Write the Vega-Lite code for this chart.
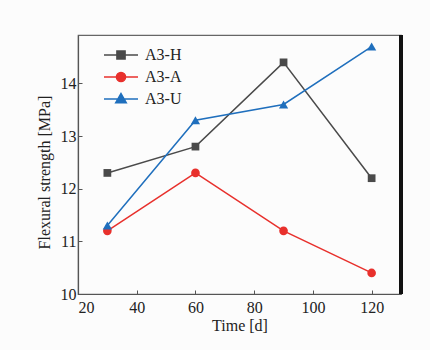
{
  "$schema": "https://vega.github.io/schema/vega-lite/v6.json",
  "width": 323,
  "height": 259,
  "autosize": {"type": "none"},
  "padding": {"left": 78, "top": 35, "right": 29, "bottom": 56},
  "background": "#fcfcfc",
  "config": {
    "view": {"stroke": "#666666", "strokeWidth": 1.2},
    "font": "Liberation Serif",
    "axis": {
      "labelFont": "Liberation Serif",
      "titleFont": "Liberation Serif",
      "labelFontSize": 16,
      "titleFontSize": 16,
      "titleFontWeight": "normal",
      "labelColor": "#222222",
      "titleColor": "#222222",
      "domainColor": "#555555",
      "domainWidth": 1.2,
      "tickColor": "#555555",
      "tickSize": -4,
      "grid": false
    }
  },
  "data": {
    "values": [
      {"series": "A3-H", "time": 30, "strength": 12.3},
      {"series": "A3-H", "time": 60, "strength": 12.8},
      {"series": "A3-H", "time": 90, "strength": 14.4},
      {"series": "A3-H", "time": 120, "strength": 12.2},
      {"series": "A3-A", "time": 30, "strength": 11.2},
      {"series": "A3-A", "time": 60, "strength": 12.3},
      {"series": "A3-A", "time": 90, "strength": 11.2},
      {"series": "A3-A", "time": 120, "strength": 10.4},
      {"series": "A3-U", "time": 30, "strength": 11.3},
      {"series": "A3-U", "time": 60, "strength": 13.3},
      {"series": "A3-U", "time": 90, "strength": 13.6},
      {"series": "A3-U", "time": 120, "strength": 14.7}
    ]
  },
  "layer": [
    {
      "mark": {"type": "rule", "color": "#111111", "strokeWidth": 3},
      "encoding": {
        "x": {"datum": 130, "type": "quantitative", "scale": {"domain": [20, 130], "nice": false, "zero": false}}
      }
    },
    {
      "encoding": {
        "x": {
          "field": "time", "type": "quantitative",
          "scale": {"domain": [20, 130], "nice": false, "zero": false},
          "axis": {"values": [20, 40, 60, 80, 100, 120], "title": "Time [d]", "labelPadding": 9, "titlePadding": 2}
        },
        "y": {
          "field": "strength", "type": "quantitative",
          "scale": {"domain": [10, 14.92], "nice": false, "zero": false},
          "axis": {"values": [10, 11, 12, 13, 14], "title": "Flexural strength [MPa]", "labelPadding": 6, "titlePadding": 8, "titleY": 137}
        },
        "color": {
          "field": "series", "type": "nominal",
          "scale": {"domain": ["A3-H", "A3-A", "A3-U"], "range": ["#4a4a4a", "#e8302c", "#1f6fbd"]},
          "legend": {
            "title": null,
            "orient": "none",
            "legendX": 25,
            "legendY": 10,
            "symbolSize": 1156,
            "clipHeight": 20,
            "labelFont": "Liberation Serif",
            "labelFontSize": 16,
            "labelColor": "#222222",
            "labelOffset": 6,
            "symbolStrokeWidth": 1.5,
            "encode": {
              "symbols": {
                "update": {
                  "shape": {"signal": "datum.value === 'A3-H' ? 'M-1,0H1M-0.24,-0.24H0.24V0.24H-0.24Z' : datum.value === 'A3-A' ? 'M-1,0H1M-0.27,0A0.27,0.27,0,1,1,0.27,0A0.27,0.27,0,1,1,-0.27,0Z' : 'M-1,0H1M0,-0.32L0.31,0.22L-0.31,0.22Z'"},
                  "size": {"value": 1156},
                  "fill": {"signal": "datum.value === 'A3-H' ? '#4a4a4a' : datum.value === 'A3-A' ? '#e8302c' : '#1f6fbd'"},
                  "stroke": {"signal": "datum.value === 'A3-H' ? '#4a4a4a' : datum.value === 'A3-A' ? '#e8302c' : '#1f6fbd'"},
                  "strokeWidth": {"value": 1.5},
                  "opacity": {"value": 1}
                }
              }
            }
          }
        }
      },
      "layer": [
        {
          "mark": {"type": "line", "strokeWidth": 1.5}
        },
        {
          "transform": [{"filter": "datum.series === 'A3-H'"}],
          "mark": {"type": "point", "filled": true, "opacity": 1, "shape": "square", "size": 60}
        },
        {
          "transform": [{"filter": "datum.series === 'A3-A'"}],
          "mark": {"type": "point", "filled": true, "opacity": 1, "shape": "circle", "size": 75}
        },
        {
          "transform": [{"filter": "datum.series === 'A3-U'"}],
          "mark": {"type": "point", "filled": true, "opacity": 1, "shape": "triangle-up", "size": 85}
        }
      ]
    }
  ]
}
